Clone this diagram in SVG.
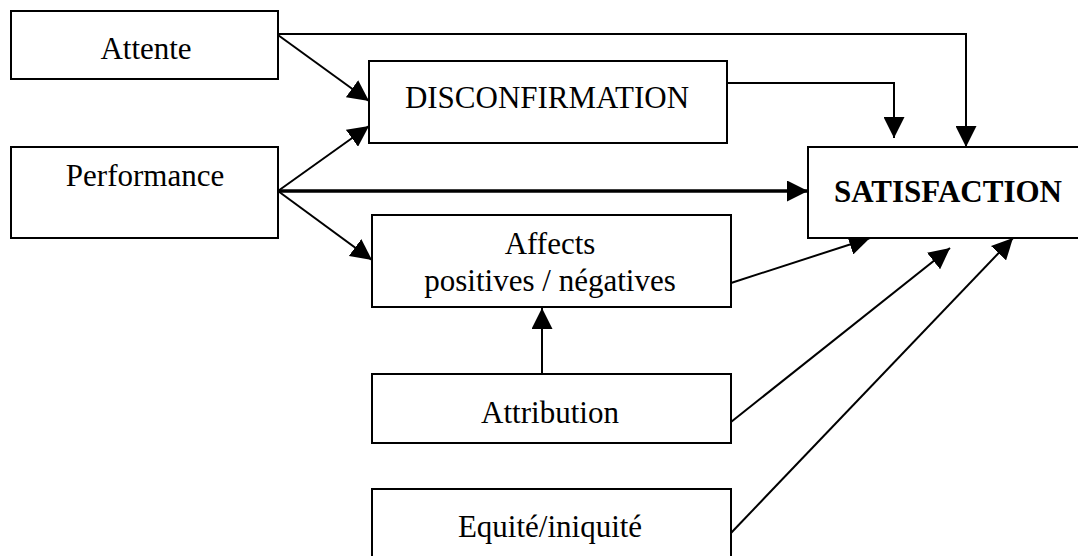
<svg xmlns="http://www.w3.org/2000/svg" width="1078" height="556" viewBox="0 0 1078 556">
  <style>
    .box { fill: #ffffff; stroke: #000000; stroke-width: 2; }
    .lbl { font-family: "Liberation Serif", "Times New Roman", serif; font-size: 31px; fill: #000000; text-anchor: middle; }
    .bold { font-weight: bold; }
    .conn { fill: none; stroke: #000000; stroke-width: 2; }
    .thick { stroke-width: 3.5; }
  </style>
  <defs>
    <marker id="arr" viewBox="0 0 20 20" refX="20" refY="10" markerWidth="21" markerHeight="21" markerUnits="userSpaceOnUse" orient="auto">
      <path d="M0,0 L20,10 L0,20 Z" fill="#000000"/>
    </marker>
  </defs>

  <g id="connectors">
    <path class="conn" d="M278,34 L966,34 L966,147" marker-end="url(#arr)"/>
    <path class="conn" d="M278,35 L369,101" marker-end="url(#arr)"/>
    <path class="conn" d="M278,191 L369,126" marker-end="url(#arr)"/>
    <path class="conn thick" d="M278,191 L808,191" marker-end="url(#arr)"/>
    <path class="conn" d="M278,191 L372,260" marker-end="url(#arr)"/>
    <path class="conn" d="M727,83 L894,83 L894,138" marker-end="url(#arr)"/>
    <path class="conn" d="M542,374 L542,308" marker-end="url(#arr)"/>
    <path class="conn" d="M731,283 L870,238" marker-end="url(#arr)"/>
    <path class="conn" d="M731,422 L950,248" marker-end="url(#arr)"/>
    <path class="conn" d="M731,533 L1013,238" marker-end="url(#arr)"/>
  </g>

  <g id="attente">
    <rect class="box" x="11" y="11" width="267" height="68"/>
    <text class="lbl" x="146" y="59">Attente</text>
  </g>
  <g id="performance">
    <rect class="box" x="11" y="147" width="267" height="91"/>
    <text class="lbl" x="145" y="186">Performance</text>
  </g>
  <g id="disconfirmation">
    <rect class="box" x="369" y="61" width="358" height="82"/>
    <text class="lbl" x="547" y="108">DISCONFIRMATION</text>
  </g>
  <g id="satisfaction">
    <rect class="box" x="808" y="147" width="280" height="91"/>
    <text class="lbl bold" x="948" y="202">SATISFACTION</text>
  </g>
  <g id="affects">
    <rect class="box" x="372" y="215" width="359" height="92"/>
    <text class="lbl" x="550" y="254">Affects</text>
    <text class="lbl" x="550" y="291">positives / négatives</text>
  </g>
  <g id="attribution">
    <rect class="box" x="372" y="374" width="359" height="69"/>
    <text class="lbl" x="550" y="423">Attribution</text>
  </g>
  <g id="equite">
    <rect class="box" x="372" y="489" width="359" height="80"/>
    <text class="lbl" x="550" y="537">Equité/iniquité</text>
  </g>
</svg>
